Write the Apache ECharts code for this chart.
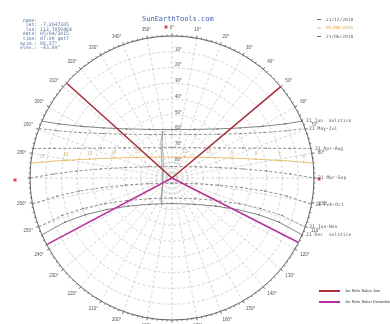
<!DOCTYPE html>
<html>
<head>
<meta charset="utf-8">
<script src="https://cdn.jsdelivr.net/npm/echarts@6/dist/echarts.min.js"></script>
<style>
  html, body { margin: 0; padding: 0; background: #fff; }
  #chart { width: 390px; height: 324px; }
</style>
</head>
<body>
<div id="chart"></div>
<script>
// sun paths, points are [elevation, azimuth], west -> east
const junPath = [[0, 293.6], [10.7, 295.6], [23.9, 299.7], [36.4, 306.3], [47.6, 317.2], [56.0, 334.9], [59.3, 0], [56.0, 25.1], [47.6, 42.8], [36.4, 53.7], [23.9, 60.3], [10.7, 64.4], [0, 66.4]]
const mayJulPath = [[0, 290.4], [11.4, 292.4], [25.0, 296.3], [37.9, 302.7], [49.7, 313.5], [58.8, 332.0], [62.5, 0], [58.8, 28.0], [49.7, 46.5], [37.9, 57.3], [25.0, 63.7], [11.4, 67.6], [0, 69.6]]
const aprAugPath = [[0, 282.0], [13.0, 284.1], [27.3, 287.5], [41.3, 292.9], [54.5, 302.5], [65.7, 322.0], [70.8, 0], [65.7, 38.0], [54.5, 57.5], [41.3, 67.1], [27.3, 72.5], [13.0, 75.9], [0, 78.0]]
const marSepPath = [[0, 270], [14.9, 271.9], [29.7, 274.2], [44.5, 277.2], [59.2, 282.4], [73.4, 295.3], [82.7, 0], [73.4, 64.7], [59.2, 77.6], [44.5, 82.8], [29.7, 85.8], [14.9, 88.1], [0, 90]]
const febOctPath = [[0, 259.3], [16.0, 261.0], [30.7, 262.0], [45.5, 262.2], [60.2, 261.3], [74.8, 256.2], [86.7, 180], [74.8, 103.8], [60.2, 98.7], [45.5, 97.8], [30.7, 98.0], [16.0, 99.0], [0, 100.7]]
const janNovPath = [[0, 249.8], [16.5, 251.2], [30.6, 251.0], [44.6, 249.0], [58.3, 243.3], [70.7, 227.2], [77.3, 180], [70.7, 132.8], [58.3, 116.7], [44.6, 111.0], [30.6, 109.0], [16.5, 108.8], [0, 110.2]]
const decPath = [[0, 246.4], [16.6, 247.6], [30.4, 247.0], [43.9, 244.3], [57.0, 237.3], [68.3, 220.0], [73.8, 180], [68.3, 140.0], [57.0, 122.7], [43.9, 115.7], [30.4, 113.0], [16.6, 112.4], [0, 113.6]]
const todayPath = [[0, 276.0], [14.0, 278.1], [28.7, 280.9], [43.2, 285.3], [57.3, 293.1], [70.0, 311.2], [76.7, 0], [70.0, 48.8], [57.3, 66.9], [43.2, 74.7], [28.7, 79.1], [14.0, 81.9], [0, 84.0]]

const pathNames = ['21/06/2018', '21 May-Jul', '21 Apr-Aug', '21 Mar-Sep', '21 Feb-Oct', '21 Jan-Nov', '21/12/2018']
const pathLabels = ['21 Jun  solstice', '21 May-Jul', '21 Apr-Aug', '21 Mar-Sep', '21 Feb-Oct', '21 Jan-Nov', '21 Dec  solstice']
const paths = [junPath, mayJulPath, aprAugPath, marSepPath, febOctPath, janNovPath, decPath]

// clock hours on 05/04/2015
const hourLabels = ['6', '7', '8', '9', '10', '11', '13', '14', '15', '16', '17']
const hourElev = [6.1, 20.9, 35.5, 49.8, 63.5, 74.5, 64.4, 50.8, 36.5, 21.9, 7.1]
const hourAzim = [83.1, 80.7, 77.3, 71.7, 60.6, 31.3, 300.6, 288.8, 283.0, 279.5, 277.0]

// 12:00 analemma
const analemma = [[59.6, 349], [66, 345], [73, 340], [79, 330], [83.5, 300], [84, 250], [80, 220], [75, 208], [71.8, 201], [74, 204], [79, 214], [83, 238], [83.8, 280], [80, 320], [74, 335], [66, 343], [59.6, 349]]

// sunrise / sunset directions
const juneLine = [[0, 50], [90, 50], [0, 312]]
const decLine = [[0, 117], [90, 117], [0, 242]]

const cardinals = [[0, 0], [0, 90], [0, 270]]

const infoLines = ['  name:', '   lat: -7.2647165', '   lon: 112.7059464', '  date: 05/04/2015', '  time: 07:00 gmt7', ' azim.: 88.27°', ' elev.: -43.69°']

const mono = 'DejaVu Sans Mono'
const chart = echarts.init(document.getElementById('chart'))

function pathSeries(name, data, solid) {
  return {
    name: name,
    type: 'line',
    coordinateSystem: 'polar',
    data: data,
    symbol: 'circle',
    symbolSize: 1.6,
    itemStyle: { color: solid ? '#666' : '#777' },
    lineStyle: { color: solid ? '#666' : '#777', width: 0.8, type: solid ? 'solid' : [3, 2] },
    z: 3,
  }
}

const option = {
  backgroundColor: '#fff',
  animation: false,
  title: [
    { text: 'SunEarthTools.com', left: 137, top: 11, textStyle: { fontFamily: mono, fontSize: 7, fontWeight: 'normal', color: '#3a5cb0' } },
    { text: infoLines.join('\n'), left: 12, top: 13, textStyle: { fontFamily: mono, fontSize: 4.8, lineHeight: 4.6, fontWeight: 'normal', color: '#5870a0' } },
  ],
  legend: [
    {
      data: ['21/12/2018', { name: '05/04/2015', textStyle: { color: '#e0a040' } }, '21/06/2018'],
      orient: 'vertical', left: 312, top: 12, icon: 'rect', itemWidth: 4, itemHeight: 1, itemGap: 3.5,
      textStyle: { fontFamily: mono, fontSize: 4.5, color: '#666' },
    },
    {
      data: ['Jur Kelis Salun Juni', 'Jur Kelis Salun Desember'],
      orient: 'vertical', left: 314, top: 284, icon: 'rect', itemWidth: 21, itemHeight: 2, itemGap: 7,
      textStyle: { fontSize: 4, color: '#333' },
    },
  ],
  polar: { center: [172, 178], radius: 142 },
  angleAxis: {
    type: 'value', min: 0, max: 360, interval: 10, startAngle: 90, clockwise: true,
    axisLine: { lineStyle: { color: '#666', width: 1 } },
    axisTick: { show: true, length: 2.5, lineStyle: { color: '#666' } },
    minorTick: { show: true, splitNumber: 5, length: 1.5, lineStyle: { color: '#777' } },
    axisLabel: { fontSize: 4.5, color: '#555', margin: 6, formatter: v => (v === 360 || v === 90 || v === 270 ? '' : v + '°') },
    splitLine: { lineStyle: { color: '#bbb', width: 0.6, type: [3, 2] } },
  },
  radiusAxis: {
    type: 'value', min: 0, max: 90, interval: 10, inverse: true,
    axisLine: { show: false },
    axisTick: { show: false },
    axisLabel: { fontSize: 4.5, color: '#555', margin: -3, align: 'left', verticalAlign: 'bottom', formatter: v => (v === 0 || v === 90 ? '' : v + '°') },
    splitLine: { lineStyle: { color: '#bbb', width: 0.6, type: [3, 2] } },
  },
  series: [
    ...paths.map((p, i) => pathSeries(pathNames[i], p, i === 0 || i === 6)),
    {
      name: 'pathLabels', type: 'scatter', coordinateSystem: 'polar', clip: false,
      data: paths.map(p => p[p.length - 1]),
      symbolSize: 0,
      label: { show: true, position: 'right', distance: 4, fontFamily: mono, fontSize: 4.7, color: '#333', formatter: p => pathLabels[p.dataIndex] },
      z: 6,
    },
    {
      name: '05/04/2015', type: 'line', coordinateSystem: 'polar', data: todayPath,
      showSymbol: false, itemStyle: { color: '#e8b860' },
      lineStyle: { color: '#e8b860', width: 0.9 }, z: 4,
    },
    {
      name: 'hours', type: 'scatter', coordinateSystem: 'polar',
      data: hourElev.map((e, i) => [e, hourAzim[i]]),
      symbolSize: 1.6, itemStyle: { color: '#d8a850' },
      label: { show: true, position: 'top', distance: 2, fontSize: 4.5, color: '#c8a050', formatter: p => hourLabels[p.dataIndex] },
      z: 4,
    },
    {
      name: 'analemma', type: 'line', coordinateSystem: 'polar', data: analemma,
      showSymbol: false, lineStyle: { color: '#777', width: 0.6 }, z: 3,
    },
    {
      name: 'Jur Kelis Salun Juni', type: 'line', coordinateSystem: 'polar', data: juneLine,
      showSymbol: false, itemStyle: { color: '#a8303c' }, lineStyle: { color: '#a8303c', width: 1.6 }, z: 5,
    },
    {
      name: 'Jur Kelis Salun Desember', type: 'line', coordinateSystem: 'polar', data: decLine,
      showSymbol: false, itemStyle: { color: '#b8309c' }, lineStyle: { color: '#b8309c', width: 1.6 }, z: 5,
    },
    {
      name: 'cardinal', type: 'scatter', coordinateSystem: 'polar', clip: false,
      data: [
        { value: cardinals[0], symbolOffset: [-6, -9] },
        { value: cardinals[1], symbolOffset: [5, 1] },
        { value: cardinals[2], symbolOffset: [-15, 2] },
      ],
      symbol: 'rect', symbolSize: 3, itemStyle: { color: '#d02020' }, z: 6,
    },
  ],
}

chart.setOption(option)
</script>
</body>
</html>
